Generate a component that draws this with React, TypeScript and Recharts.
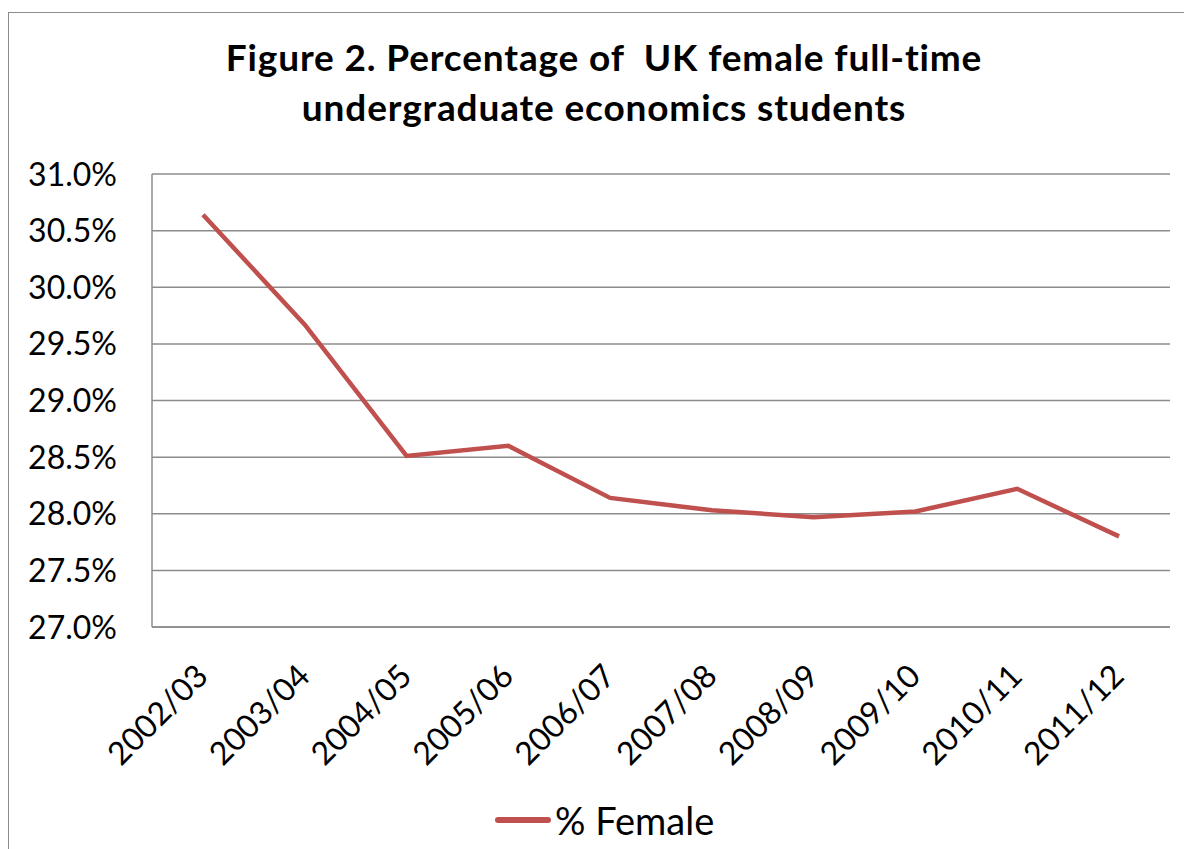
import React from 'react';
import { LineChart, Line, XAxis, YAxis, CartesianGrid, Legend } from 'recharts';

// Academic years on the category axis
const years = [
  '2002/03', '2003/04', '2004/05', '2005/06', '2006/07',
  '2007/08', '2008/09', '2009/10', '2010/11', '2011/12'
];

// Share of female full-time undergraduate economics students (%)
const femaleShare = [30.64, 29.67, 28.51, 28.6, 28.14, 28.03, 27.97, 28.02, 28.22, 27.8];

// Value axis ticks (%)
const yTicks = [27, 27.5, 28, 28.5, 29, 29.5, 30, 30.5, 31];

const LINE_COLOR = '#C0504D';
const GRID_COLOR = '#8c8c8c';
const FONT = 'Lato, "Open Sans", sans-serif';

const data = years.map((year, i) => ({ year, female: femaleShare[i] }));

// Rotated category labels, ending just under each tick
const YearTick = ({ x, y, payload }: any) => (
  <g transform={`translate(${x + 7},${y + 51}) rotate(-45)`}>
    <text x={0} y={0} textAnchor="end" fill="#000" fontSize={32} fontFamily={FONT}>
      {payload.value}
    </text>
  </g>
);

const PercentTick = ({ x, y, payload }: any) => (
  <text x={x} y={y} dy="0.36em" textAnchor="end" fill="#000" fontSize={32} fontFamily={FONT}>
    {Number(payload.value).toFixed(1)}%
  </text>
);

const LegendContent = () => (
  <div style={{ display: 'flex', alignItems: 'center', fontFamily: FONT, fontSize: 38, color: '#000' }}>
    <span style={{ display: 'inline-block', width: 56, height: 6, background: LINE_COLOR, borderRadius: 3 }} />
    <span style={{ marginLeft: 4 }}>% Female</span>
  </div>
);

export default function App() {
  return (
    <div
      style={{
        position: 'fixed',
        left: 0,
        top: 0,
        width: 1184,
        height: 849,
        overflow: 'hidden',
        background: '#fff'
      }}
    >
      {/* chart frame */}
      <div
        style={{
          position: 'absolute',
          left: 8,
          top: 12,
          width: 1192,
          height: 900,
          border: `1.5px solid ${GRID_COLOR}`
        }}
      />
      <div
        style={{
          position: 'absolute',
          left: 8,
          top: 32,
          width: 1192,
          textAlign: 'center',
          fontFamily: FONT,
          fontWeight: 700,
          fontSize: 37,
          letterSpacing: 0.85,
          lineHeight: '50px',
          whiteSpace: 'pre',
          color: '#000'
        }}
      >
        {'Figure 2. Percentage of  UK female full-time\nundergraduate economics students'}
      </div>
      <div style={{ position: 'absolute', left: 0, top: 0 }}>
        <LineChart
          width={1184}
          height={849}
          data={data}
          margin={{ top: 174, right: 14, bottom: 0, left: 8 }}
        >
          <CartesianGrid vertical={false} stroke={GRID_COLOR} strokeWidth={1.5} />
          <XAxis
            dataKey="year"
            height={222}
            padding={{ left: 51, right: 51 }}
            interval={0}
            tickLine={false}
            tickSize={0}
            tickMargin={0}
            axisLine={{ stroke: GRID_COLOR, strokeWidth: 1.5 }}
            tick={<YearTick />}
          />
          <YAxis
            width={144}
            domain={[27, 31]}
            ticks={yTicks}
            interval={0}
            tickLine={false}
            tickSize={0}
            tickMargin={35}
            axisLine={{ stroke: GRID_COLOR, strokeWidth: 1.5 }}
            tick={<PercentTick />}
          />
          <Legend
            verticalAlign="middle"
            align="center"
            layout="horizontal"
            content={<LegendContent />}
            wrapperStyle={{ top: 797, left: 495, width: 280 }}
          />
          <Line
            type="linear"
            dataKey="female"
            name="% Female"
            stroke={LINE_COLOR}
            strokeWidth={4.5}
            dot={false}
            activeDot={false}
            isAnimationActive={false}
          />
        </LineChart>
      </div>
    </div>
  );
}
